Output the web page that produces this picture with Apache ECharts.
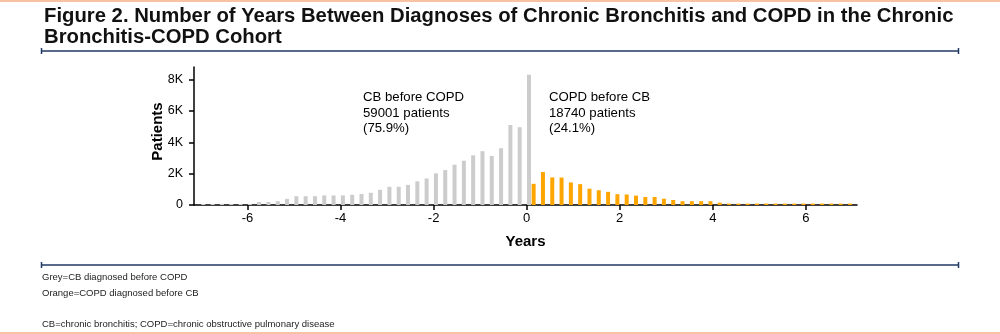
<!DOCTYPE html>
<html>
<head>
<meta charset="utf-8">
<title>Years Between Diagnoses of CB and COPD</title>
<script src="https://cdn.jsdelivr.net/npm/echarts@6/dist/echarts.min.js"></script>
<style>
  html, body { margin: 0; padding: 0; background: #fff; }
  #chart { width: 1000px; height: 334px; }
</style>
</head>
<body>
<div id="chart"></div>
<script>
// Bin centres (years from CB diagnosis to COPD diagnosis) and patient counts
const greyYears = [-6.95, -6.75, -6.55, -6.35, -6.15, -5.95, -5.75, -5.55, -5.35, -5.15,
  -4.95, -4.75, -4.55, -4.35, -4.15, -3.95, -3.75, -3.55, -3.35, -3.15,
  -2.95, -2.75, -2.55, -2.35, -2.15, -1.95, -1.75, -1.55, -1.35, -1.15,
  -0.95, -0.75, -0.55, -0.35, -0.15, 0.05];
const greyPatients = [70, 70, 70, 70, 70, 70, 190, 190, 240, 390,
  560, 560, 560, 610, 610, 610, 650, 700, 780, 970,
  1160, 1160, 1280, 1510, 1690, 2020, 2230, 2570, 2830, 3170,
  3430, 3130, 3620, 5100, 4960, 8300];

const orangeYears = [0.15, 0.35, 0.55, 0.75, 0.95, 1.15, 1.35, 1.55, 1.75, 1.95,
  2.15, 2.35, 2.55, 2.75, 2.95, 3.15, 3.35, 3.55, 3.75, 3.95,
  4.15, 4.35, 4.55, 4.75, 4.95, 5.15, 5.35, 5.55, 5.75, 5.95,
  6.15, 6.35, 6.55, 6.75, 6.95];
const orangePatients = [1350, 2100, 1760, 1750, 1440, 1330, 1040, 940, 840, 690,
  670, 600, 510, 510, 400, 320, 240, 240, 240, 240,
  150, 90, 90, 90, 90, 90, 90, 90, 90, 90,
  90, 90, 90, 90, 90];

const xTicks = [-6, -4, -2, 0, 2, 4, 6];
const yTicks = [0, 2000, 4000, 6000, 8000];

const titleLines = [
  'Figure 2. Number of Years Between Diagnoses of Chronic Bronchitis and COPD in the Chronic',
  'Bronchitis-COPD Cohort'
];
const leftNote = ['CB before COPD', '59001 patients', '(75.9%)'];
const rightNote = ['COPD before CB', '18740 patients', '(24.1%)'];
const legendNotes = ['Grey=CB diagnosed before COPD', 'Orange=COPD diagnosed before CB'];
const abbreviations = 'CB=chronic bronchitis; COPD=chronic obstructive pulmonary disease';

const pair = (xs, ys) => xs.map((x, i) => [x, ys[i]]);

const navy = '#1f3864';
const FONT = '"Liberation Sans", Arial, sans-serif';

// Horizontal rule with small end caps
function ruleLine(y) {
  return [
    { type: 'line', shape: { x1: 41, y1: y, x2: 959, y2: y }, style: { stroke: navy, lineWidth: 1.5 } },
    { type: 'line', shape: { x1: 41.5, y1: y - 3, x2: 41.5, y2: y + 3 }, style: { stroke: navy, lineWidth: 1.5 } },
    { type: 'line', shape: { x1: 958.5, y1: y - 3, x2: 958.5, y2: y + 3 }, style: { stroke: navy, lineWidth: 1.5 } }
  ];
}

const chart = echarts.init(document.getElementById('chart'), null, { renderer: 'canvas' });

const option = {
  backgroundColor: '#fff',
  animation: false,
  grid: { left: 194, right: 143, top: 67, bottom: 129, containLabel: false },
  xAxis: {
    type: 'value',
    min: -7.15,
    max: 7.1,
    name: 'Years',
    nameLocation: 'middle',
    nameGap: 29,
    nameMoveOverlap: false,
    nameTextStyle: { fontFamily: FONT, fontWeight: 'bold', fontSize: 15, color: '#000' },
    axisLine: { show: true, onZero: false, lineStyle: { color: '#000', width: 1.5 } },
    axisTick: { show: true, length: 5, lineStyle: { color: '#000', width: 1.5 }, customValues: xTicks },
    axisLabel: { fontFamily: FONT, fontSize: 13, color: '#000', margin: 7, customValues: xTicks },
    splitLine: { show: false }
  },
  yAxis: {
    type: 'value',
    min: 0,
    max: 8800,
    name: 'Patients',
    nameLocation: 'middle',
    nameGap: 29,
    nameMoveOverlap: false,
    nameTextStyle: { fontFamily: FONT, fontWeight: 'bold', fontSize: 15, color: '#000', padding: [0, 0, 0, 9] },
    axisLine: { show: true, onZero: false, lineStyle: { color: '#000', width: 1.5 } },
    axisTick: { show: true, length: 5, lineStyle: { color: '#000', width: 1.5 }, customValues: yTicks },
    axisLabel: {
      fontFamily: FONT, fontSize: 12.5, color: '#000', margin: 11, customValues: yTicks,
      formatter: v => (v === 0 ? '0' : (v / 1000) + 'K')
    },
    splitLine: { show: false }
  },
  series: [
    {
      name: 'CB before COPD',
      type: 'bar',
      data: pair(greyYears, greyPatients),
      barWidth: 4,
      barGap: '-100%',
      itemStyle: { color: '#cccccc' }
    },
    {
      name: 'COPD before CB',
      type: 'bar',
      data: pair(orangeYears, orangePatients),
      barWidth: 4,
      barGap: '-100%',
      itemStyle: { color: '#ffa500' }
    }
  ],
  graphic: [
    { type: 'rect', shape: { x: 0, y: 0, width: 1000, height: 2 }, style: { fill: '#f8c3a4' } },
    { type: 'rect', shape: { x: 0, y: 332, width: 1000, height: 2 }, style: { fill: '#f8c3a4' } },
    {
      type: 'text', left: 44, top: 6.5,
      style: { text: titleLines.join('\n'), font: 'bold 20.3px ' + FONT, fill: '#111', lineHeight: 20.5 }
    },
    ...ruleLine(51),
    ...ruleLine(265),
    {
      type: 'text', left: 363, top: 90,
      style: { text: leftNote.join('\n'), font: '13.2px ' + FONT, fill: '#000', lineHeight: 15.5 }
    },
    {
      type: 'text', left: 549, top: 90,
      style: { text: rightNote.join('\n'), font: '13.2px ' + FONT, fill: '#000', lineHeight: 15.5 }
    },
    {
      type: 'text', left: 42, top: 269,
      style: { text: legendNotes.join('\n'), font: '9.5px ' + FONT, fill: '#222', lineHeight: 16.5 }
    },
    {
      type: 'text', left: 42, top: 319,
      style: { text: abbreviations, font: '9.5px ' + FONT, fill: '#222' }
    }
  ]
};

chart.setOption(option);
</script>
</body>
</html>
